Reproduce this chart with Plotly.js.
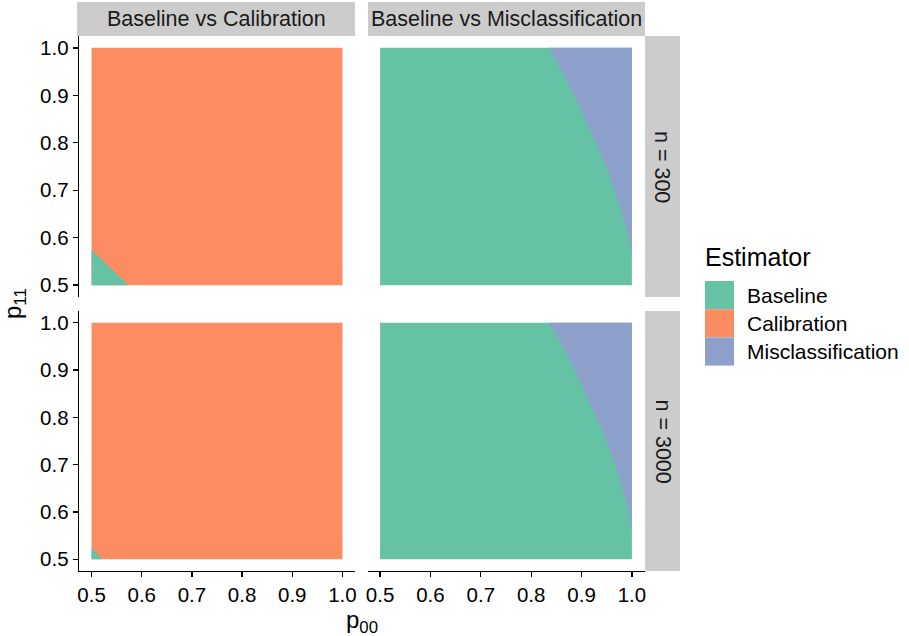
<!DOCTYPE html>
<html><head><meta charset="utf-8">
<script src="https://cdn.plot.ly/plotly-3.0.1.min.js"></script>
<style>html,body{margin:0;padding:0;background:#fff}</style>
</head><body><div id="chart" style="width:909px;height:636px"></div>
<script>
// ---- data ----
const estimators = ['Baseline', 'Calibration', 'Misclassification'];
const estimatorColors = ['#66C2A5', '#FC8D62', '#8DA0CB'];
const comparisons = ['Baseline vs Calibration', 'Baseline vs Misclassification'];
const sampleSizes = ['n = 300', 'n = 3000'];
const p00Range = [0.5, 1.0];
const p11Range = [0.5, 1.0];
const tickVals = [0.5, 0.6, 0.7, 0.8, 0.9, 1.0];
const tickText = ['0.5', '0.6', '0.7', '0.8', '0.9', '1.0'];

// Boundary of the Baseline-preferred region (Baseline vs Calibration), lower-left corner
const calib300P00 = [0.5, 0.574];
const calib300P11 = [0.574, 0.5];
const calib3000P00 = [0.5, 0.522];
const calib3000P11 = [0.525, 0.5];

// Boundary of the Misclassification-preferred region (Baseline vs Misclassification), upper-right corner
const mis300P00 = [0.835, 0.863, 0.896, 0.925, 0.948, 0.971, 0.991, 1.0];
const mis300P11 = [1.0, 0.947, 0.877, 0.807, 0.754, 0.684, 0.614, 0.565];
const mis3000P00 = [0.836, 0.864, 0.897, 0.926, 0.949, 0.972, 0.992, 1.0];
const mis3000P11 = [1.0, 0.947, 0.877, 0.807, 0.754, 0.684, 0.612, 0.558];

// ---- build ----
const FONT = 'Liberation Sans, Arial, sans-serif';
const W = 909, H = 636;
const px = v => v / W;
const py = v => 1 - v / H;

function rectTrace(est, xa, ya) {
  const i = estimators.indexOf(est);
  return {
    type: 'scatter', mode: 'lines', xaxis: xa, yaxis: ya,
    x: [p00Range[0], p00Range[1], p00Range[1], p00Range[0]],
    y: [p11Range[0], p11Range[0], p11Range[1], p11Range[1]],
    fill: 'toself', fillcolor: estimatorColors[i],
    line: { width: 0, color: estimatorColors[i] },
    hoverinfo: 'skip', showlegend: false
  };
}
function regionTrace(est, bx, by, cornerX, cornerY, xa, ya) {
  const i = estimators.indexOf(est);
  return {
    type: 'scatter', mode: 'lines', xaxis: xa, yaxis: ya,
    x: bx.concat([cornerX]), y: by.concat([cornerY]),
    fill: 'toself', fillcolor: estimatorColors[i],
    line: { width: 0, color: estimatorColors[i] },
    hoverinfo: 'skip', showlegend: false
  };
}

const traces = [
  rectTrace('Calibration', 'x', 'y'),
  regionTrace('Baseline', calib300P00, calib300P11, p00Range[0], p11Range[0], 'x', 'y'),
  rectTrace('Baseline', 'x2', 'y2'),
  regionTrace('Misclassification', mis300P00, mis300P11, p00Range[1], p11Range[1], 'x2', 'y2'),
  rectTrace('Calibration', 'x3', 'y3'),
  regionTrace('Baseline', calib3000P00, calib3000P11, p00Range[0], p11Range[0], 'x3', 'y3'),
  rectTrace('Baseline', 'x4', 'y4'),
  regionTrace('Misclassification', mis3000P00, mis3000P11, p00Range[1], p11Range[1], 'x4', 'y4')
];

const xDomL = [px(79), px(355)];
const xDomR = [px(367.5), px(644.5)];
const yDomT = [py(297), py(36)];
const yDomB = [py(571), py(311)];
const rng = [0.475, 1.025];

function shownAxis(domain, anchor) {
  return {
    domain, anchor, range: rng, showgrid: false, zeroline: false,
    showline: true, linecolor: '#000', linewidth: 1.3,
    ticks: 'outside', ticklen: 5, tickwidth: 1.3, tickcolor: '#000',
    tickvals: tickVals, ticktext: tickText,
    tickfont: { family: FONT, size: 20.5, color: '#000' }, fixedrange: true
  };
}
function hiddenAxis(domain, anchor) {
  return {
    domain, anchor, range: rng, showgrid: false, zeroline: false,
    showline: false, ticks: '', showticklabels: false, fixedrange: true
  };
}

const shapes = [];
const annotations = [];
const STRIP = '#CCCCCC';
// top strips
const topStrips = [[77, 355], [368, 645]];
topStrips.forEach((s, k) => {
  shapes.push({ type: 'rect', xref: 'paper', yref: 'paper', x0: px(s[0]), x1: px(s[1]), y0: py(36), y1: py(2), fillcolor: STRIP, line: { width: 0 }, layer: 'below' });
  annotations.push({ xref: 'paper', yref: 'paper', x: px((s[0] + s[1]) / 2), y: py(19), text: comparisons[k], showarrow: false, xanchor: 'center', yanchor: 'middle', font: { family: FONT, size: 21.5, color: '#1a1a1a' } });
});
// right strips
const rightStrips = [[36, 297], [311, 571]];
rightStrips.forEach((s, k) => {
  shapes.push({ type: 'rect', xref: 'paper', yref: 'paper', x0: px(645), x1: px(680), y0: py(s[1]), y1: py(s[0]), fillcolor: STRIP, line: { width: 0 }, layer: 'below' });
  annotations.push({ xref: 'paper', yref: 'paper', x: px(662.5), y: py((s[0] + s[1]) / 2), text: sampleSizes[k], textangle: 90, showarrow: false, xanchor: 'center', yanchor: 'middle', font: { family: FONT, size: 21.5, color: '#1a1a1a' } });
});
// legend
annotations.push({ xref: 'paper', yref: 'paper', x: px(703), y: py(257), text: 'Estimator', showarrow: false, xanchor: 'left', yanchor: 'middle', font: { family: FONT, size: 25, color: '#000' } });
estimators.forEach((e, i) => {
  const top = 281 + i * 28.2;
  shapes.push({ type: 'rect', xref: 'paper', yref: 'paper', x0: px(705), x1: px(734), y0: py(top + 28.2), y1: py(top), fillcolor: estimatorColors[i], line: { width: 0 } });
  annotations.push({ xref: 'paper', yref: 'paper', x: px(745), y: py(top + 14.5), text: e, showarrow: false, xanchor: 'left', yanchor: 'middle', font: { family: FONT, size: 21, color: '#000' } });
});
// axis titles
annotations.push({ xref: 'paper', yref: 'paper', x: px(362), y: py(621), text: 'p<sub>00</sub>', showarrow: false, xanchor: 'center', yanchor: 'middle', font: { family: FONT, size: 24, color: '#000' } });
annotations.push({ xref: 'paper', yref: 'paper', x: px(14), y: py(304), text: 'p<sub>11</sub>', textangle: -90, showarrow: false, xanchor: 'center', yanchor: 'middle', font: { family: FONT, size: 24, color: '#000' } });

const layout = {
  width: W, height: H,
  margin: { l: 0, r: 0, t: 0, b: 0 },
  paper_bgcolor: '#fff', plot_bgcolor: '#fff',
  showlegend: false,
  font: { family: FONT, color: '#000' },
  xaxis: hiddenAxis(xDomL, 'y'),
  yaxis: shownAxis(yDomT, 'x'),
  xaxis2: hiddenAxis(xDomR, 'y2'),
  yaxis2: hiddenAxis(yDomT, 'x2'),
  xaxis3: shownAxis(xDomL, 'y3'),
  yaxis3: shownAxis(yDomB, 'x3'),
  xaxis4: shownAxis(xDomR, 'y4'),
  yaxis4: hiddenAxis(yDomB, 'x4'),
  shapes, annotations
};

Plotly.newPlot('chart', traces, layout, { displayModeBar: false, staticPlot: true });
</script>
</body></html>
